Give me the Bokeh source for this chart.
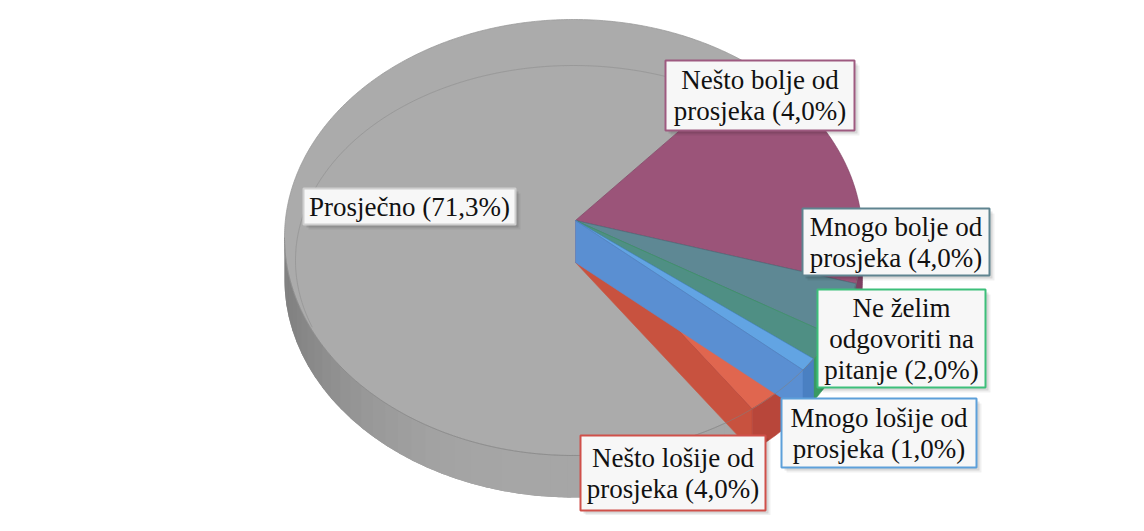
import numpy as np
from bokeh.plotting import figure
from bokeh.models import Range1d
from bokeh.embed import file_html
from bokeh.resources import INLINE
from bokeh.core.properties import value

# ---------------- data ----------------
categories = ["Nešto bolje od prosjeka", "Mnogo bolje od prosjeka",
              "Ne želim odgovoriti na pitanje", "Mnogo lošije od prosjeka",
              "Nešto lošije od prosjeka", "Prosječno"]
slice_values = [17.7, 4.0, 2.0, 1.0, 4.0, 71.3]          # visual slice shares
label_percents = ["4,0%", "4,0%", "2,0%", "1,0%", "4,0%", "71,3%"]  # printed labels
label_lines = [["Nešto bolje od", "prosjeka (4,0%)"],
               ["Mnogo bolje od", "prosjeka (4,0%)"],
               ["Ne želim", "odgovoriti na", "pitanje (2,0%)"],
               ["Mnogo lošije od", "prosjeka (1,0%)"],
               ["Nešto lošije od", "prosjeka (4,0%)"],
               ["Prosječno (71,3%)"]]

# ---------------- styles / layout ----------------
top_colors = ["#9B5479", "#5E8894", "#4F8F84", "#62A4E3", "#E0664F", "#ABABAB"]
wall_colors = ["#7E3F62", "#4A707B", "#3A9A62", "#4A80C2", "#B8463A", "#9C9C9C"]
face_colors = ["#8A4A6C", "#52797F", "#467F76", "#5A8FD2", "#C8523F", "#A0A0A0"]
border_colors = ["#9E5A80", "#5F8490", "#3DBF7A", "#5DA0DA", "#D0504A", "#CFCFCF"]
boxes = [(673, 68, 862, 138), (810, 216, 997, 283), (825, 297, 993, 395),
         (789, 406, 984, 475), (588, 443, 773, 518), (311, 196, 523, 232)]
FONT = "Liberation Serif"

W, H = 1128, 515
CX, CY, RX, RY = 581.0, 245.0, 289.0, 218.0
AX, AY = 583.0, 228.0
DEPTH = 42.0
START = 51.5
LINE_H = 31

p = figure(width=W, height=H, output_backend="svg", toolbar_location=None,
           x_range=Range1d(8, 8 + W), y_range=Range1d(8 + H, 8),
           x_axis_location=None, y_axis_location=None, min_border=0)
p.grid.visible = False
p.outline_line_color = None
p.background_fill_color = "white"


def rim(th, dy=0.0):
    r = np.radians(th)
    return CX + RX * np.cos(r), CY - RY * np.sin(r) + dy


def arc(t0, t1):
    n = max(2, int(abs(t1 - t0) / 0.5) + 1)
    return np.linspace(t0, t1, n)


def front_parts(ts, te):
    lo, hi = te, ts
    out = []
    for a, b in [(-180, 0), (-540, -360), (180, 360)]:
        l, h = max(lo, a), min(hi, b)
        if h > l:
            out.append((l, h))
    return out


vals = np.array(slice_values, dtype=float)
spans = vals / vals.sum() * 360.0
starts = START - np.concatenate([[0], np.cumsum(spans)[:-1]])
ends = starts - spans


def top_poly(i):
    t = arc(starts[i], ends[i])
    x, y = rim(t)
    return [AX] + list(x), [AY] + list(y)


def wall_polys(i):
    res = []
    for l, h in front_parts(starts[i], ends[i]):
        t = arc(l, h)
        x1, y1 = rim(t)
        x2, y2 = rim(t[::-1], DEPTH)
        res.append((list(x1) + list(x2), list(y1) + list(y2)))
    return res


def end_face(i):
    x, y = rim(ends[i])
    return [AX, x, x, AX], [AY, y, y + DEPTH, AY + DEPTH]


G = 5
for wx, wy in wall_polys(G):
    p.patch(wx, wy, fill_color="#A2A2A2", line_color=None)
for l, h in front_parts(starts[G], ends[G]):
    edges = np.linspace(l, h, 40)
    xs, ys, cs = [], [], []
    for a, b in zip(edges[:-1], edges[1:]):
        bb = min(b + 0.8, h)
        t = np.linspace(a, bb, 6)
        x1, y1 = rim(t)
        x2, y2 = rim(t[::-1], DEPTH)
        xs.append(list(x1) + list(x2))
        ys.append(list(y1) + list(y2))
        f = np.clip(((a + b) / 2 + 180) / 75.0, 0, 1)
        f = f * f * (3 - 2 * f)
        s = int(0x80 + (0xA6 - 0x80) * f)
        cs.append("#%02x%02x%02x" % (s, s, s))
    p.patches(xs, ys, fill_color=cs, line_color=None)

gx, gy = top_poly(G)
p.patch(gx, gy, fill_color=top_colors[G], line_color="#9A9A9A", line_width=0.8)

tin = arc(-20, 200)
rin = np.radians(tin)
p.line(581 + 278 * np.cos(rin), 268 - 195 * np.sin(rin), line_color="#8E8E8E",
       line_width=1, line_alpha=0.6)

order = [0, 1, 2, 4, 3]
for i in order:
    fx, fy = end_face(i)
    p.patch(fx, fy, fill_color=face_colors[i], line_color=face_colors[i], line_width=0.6)
    tx, ty = top_poly(i)
    p.patch(tx, ty, fill_color=top_colors[i], line_color=wall_colors[i],
            line_width=0.8, line_alpha=0.8)
    for wx, wy in wall_polys(i):
        p.patch(wx, wy, fill_color=wall_colors[i], line_color=wall_colors[i], line_width=0.6)

tr = arc(-180, 0)
ex, ey = rim(tr)
p.line(ex, ey, line_color="#808080", line_width=0.8, line_alpha=0.7)

for i, (x0, y0, x1, y1) in enumerate(boxes):
    for off, al in [(5, 0.06), (3, 0.10)]:
        p.quad(left=[x0 + off], right=[x1 + off], top=[y0 + off], bottom=[y1 + off],
               fill_color="black", fill_alpha=al, line_color=None)
    p.quad(left=[x0], right=[x1], top=[y0], bottom=[y1], fill_color="#F7F7F7",
           line_color=border_colors[i], line_width=2)
    lines = label_lines[i]
    cxl = (x0 + x1) / 2
    cyl = (y0 + y1) / 2
    n = len(lines)
    ys_t = [cyl + (k - (n - 1) / 2) * LINE_H for k in range(n)]
    p.text(x=[cxl] * n, y=ys_t, text=lines, text_font=value(FONT),
           text_font_size="27px", text_align="center", text_baseline="middle",
           text_color="#111111")

open("out.html", "w").write(file_html(p, INLINE))
